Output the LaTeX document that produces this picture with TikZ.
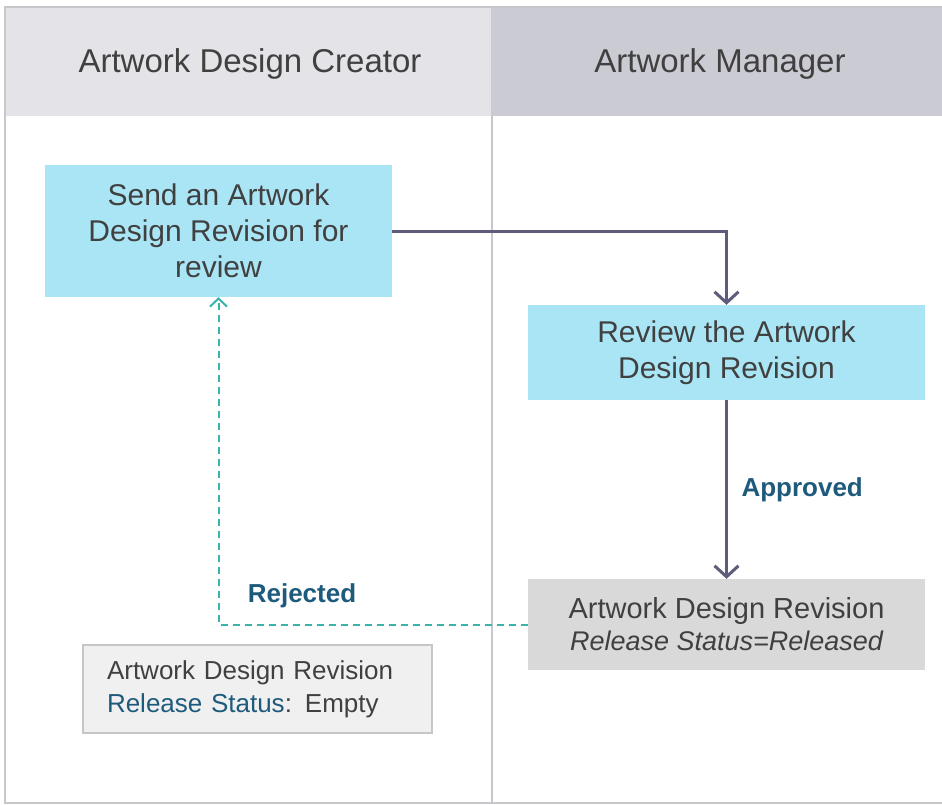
\documentclass[tikz,border=0pt]{standalone}
\usepackage{fontspec}
\setmainfont{Liberation Sans}
\usetikzlibrary{arrows.meta}
\definecolor{hdrL}{HTML}{E4E4E8}
\definecolor{hdrR}{HTML}{CBCBD3}
\definecolor{frameC}{HTML}{C8C8CC}
\definecolor{cyanbox}{HTML}{A9E5F5}
\definecolor{graybox}{HTML}{D9D9D9}
\definecolor{lightbox}{HTML}{F0F0F0}
\definecolor{lightborder}{HTML}{C6C6C6}
\definecolor{txt}{HTML}{404040}
\definecolor{lbl}{HTML}{1E5A7C}
\definecolor{flowC}{HTML}{5E5C7A}
\definecolor{tealC}{HTML}{3AB3AB}
\begin{document}
\begin{tikzpicture}[x=1pt,y=-1pt,
  lanehead/.style={text=txt,font=\fontsize{33}{36}\selectfont},
  taskbox/.style={fill=cyanbox,text=txt,align=center,font=\fontsize{30}{36}\selectfont,inner sep=0pt},
  statebox/.style={fill=graybox,text=txt,align=center,font=\fontsize{29}{32}\selectfont,inner sep=0pt},
  notebox/.style={fill=lightbox,draw=lightborder,line width=1.5pt,text=txt,align=left,font=\fontsize{26}{33}\selectfont,inner sep=0pt},
  flow/.style={draw=flowC,line width=3pt,-{Straight Barb[length=11pt,width=24pt,line width=3pt]}},
  reject/.style={draw=tealC,line width=2pt,dash pattern=on 7pt off 5pt,-{Straight Barb[length=8pt,width=17pt,line width=2pt]}},
  edgelabel/.style={text=lbl,font=\bfseries\fontsize{26}{28}\selectfont}]
\useasboundingbox (0,0) rectangle (942,805);
\fill[white] (0,0) rectangle (942,805);
\fill[hdrL] (5,7) rectangle (491,116);
\fill[hdrR] (491,7) rectangle (942,116);
\draw[frameC,line width=1.5pt] (942,7) -- (5,7) -- (5,803) -- (942,803);
\draw[frameC,line width=1.5pt] (492,116) -- (492,803);
\node[lanehead] (h1) at (250,64) {Artwork Design Creator};
\node[lanehead] (h2) at (720,64) {Artwork Manager};
\node[taskbox,minimum width=347pt,minimum height=132pt] (send) at (218.5,231) {Send an Artwork\\Design Revision for\\review};
\node[taskbox,minimum width=397pt,minimum height=95pt] (review) at (726.5,352.5) {Review the Artwork\\Design Revision};
\node[statebox,minimum width=397pt,minimum height=91pt] (rel) at (726.5,624.5) {Artwork Design Revision\\{\fontsize{27}{32}\selectfont\itshape Release Status=Released}};
\node[notebox,minimum width=349pt,minimum height=88pt,text width=301pt] (empty) at (257.5,689) {Artwork Design Revision\\\textcolor{lbl}{Release Status}: Empty};
\draw[flow] (send.east) -| (review.north);
\draw[flow] (review.south) -- (rel.north);
\draw[reject] (rel.west) -| (send.south);
\node[edgelabel,anchor=west] (appr) at (738,490) {Approved};
\node[edgelabel] (rej) at (302,596) {Rejected};
\end{tikzpicture}
\end{document}
